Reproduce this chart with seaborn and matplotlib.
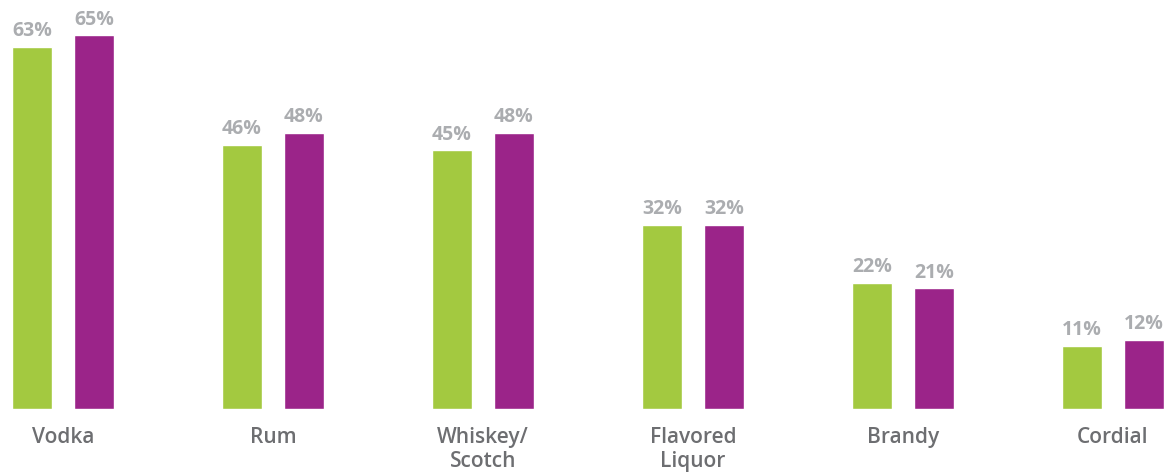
import matplotlib
matplotlib.use("Agg")
import matplotlib.pyplot as plt
import seaborn as sns
import pandas as pd

# Spirit categories and the share for each of the two groups
categories = ["Vodka", "Rum", "Whiskey/\nScotch", "Flavored\nLiquor", "Brandy", "Cordial"]
series_names = ["Group A", "Group B"]
group_a = [63, 46, 45, 32, 22, 11]
group_b = [65, 48, 48, 32, 21, 12]

GREEN = "#A3C940"
PURPLE = "#9B2489"
LABEL_GRAY = "#ABADB0"
TEXT_GRAY = "#6D6E71"

df = pd.DataFrame({
    "category": categories * 2,
    "series": [series_names[0]] * len(categories) + [series_names[1]] * len(categories),
    "value": group_a + group_b,
})

sns.set_style("white")
plt.rcParams["font.family"] = ["Open Sans", "DejaVu Sans"]

fig = plt.figure(figsize=(11.76, 4.74), dpi=100)
ax = fig.add_axes([0, 65 / 474, 1, 409 / 474])

sns.barplot(
    data=df, x="category", y="value", hue="series",
    order=categories, hue_order=series_names,
    palette=[GREEN, PURPLE], width=0.59, gap=0.355,
    saturation=1, legend=False, ax=ax,
)

for container in ax.containers:
    ax.bar_label(
        container, labels=[f"{v:.0f}%" for v in container.datavalues],
        padding=4, color=LABEL_GRAY, fontsize=14, fontweight="bold",
    )

ax.set_xlim(-0.3, 5.3)
ax.set_ylim(0, 409 / 5.75)
ax.set_xlabel("")
ax.set_ylabel("")
ax.set_yticks([])
ax.tick_params(axis="x", length=0, pad=13)
for lbl in ax.get_xticklabels():
    lbl.set_fontsize(15)
    lbl.set_fontweight("semibold")
    lbl.set_color(TEXT_GRAY)
    lbl.set_linespacing(1.2)
sns.despine(ax=ax, left=True, bottom=True)

fig.savefig("out.png", dpi=100)
